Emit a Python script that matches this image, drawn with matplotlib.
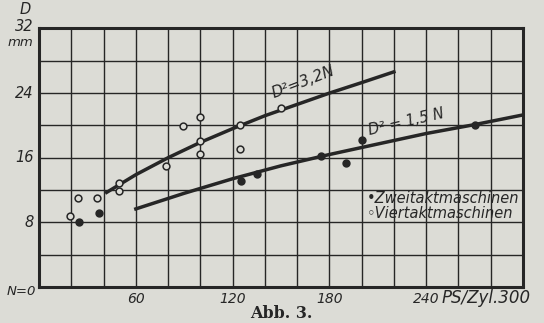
import matplotlib
matplotlib.use('Agg')
import matplotlib.pyplot as plt
import numpy as np

# Viertaktmaschinen (open circles): N in PS/Zyl., D in mm
n_vier = [19, 24, 36, 49.5, 49.5, 79, 89, 100, 100, 100, 124.5, 124.5, 150]
d_vier = [8.8, 11.0, 11.0, 12.9, 11.9, 15.0, 19.9, 21.0, 18.1, 16.5, 20.1, 17.1, 22.1]
# Zweitaktmaschinen (filled)
n_zwei = [24.5, 37, 125.5, 135, 175, 190, 200.5, 270]
d_zwei = [8.0, 9.1, 13.1, 14.0, 16.2, 15.3, 18.2, 20.1]
# curve D^2 = 3,2 N
n_c1 = [41, 60, 80, 100, 120, 140, 160, 180, 200, 221]
d_c1 = [11.6, 13.9, 16.0, 17.9, 19.6, 21.2, 22.6, 24.0, 25.3, 26.7]
# curve D^2 = 1,5 N
n_c2 = [59, 90, 120, 150, 180, 210, 240, 270, 300]
d_c2 = [9.6, 11.6, 13.4, 15.0, 16.4, 17.7, 19.0, 20.1, 21.3]

xlabels = ['60', '120', '180', '240']
xlabel_pos = [60, 120, 180, 240]
ylabels = ['8', '16', '24']
ylabel_pos = [8, 16, 24]

paper = '#dcdcd6'
ink = '#262626'

fig = plt.figure(figsize=(5.44, 3.23), dpi=100, facecolor=paper)
ax = fig.add_axes([0.0717, 0.1115, 0.8897, 0.8003])
ax.set_facecolor(paper)
ax.set_xlim(0, 300)
ax.set_ylim(0, 32)
ax.set_xticks(np.arange(0, 301, 20))
ax.set_yticks(np.arange(0, 33, 4))
ax.grid(True, color=ink, linewidth=1.0)
ax.tick_params(length=0, labelbottom=False, labelleft=False)
for s in ax.spines.values():
    s.set_linewidth(2.2)
    s.set_color(ink)

ax.plot(n_c1, d_c1, color=ink, linewidth=2.5, solid_capstyle='butt', zorder=3)
ax.plot(n_c2, d_c2, color=ink, linewidth=2.5, solid_capstyle='butt', zorder=3)
ax.scatter(n_vier, d_vier, s=24, facecolor=paper, edgecolor=ink, linewidth=1.1, zorder=4)
ax.scatter(n_zwei, d_zwei, s=24, facecolor=ink, edgecolor=ink, linewidth=1.1, zorder=4)

tf = dict(fontstyle='italic', color=ink, family='DejaVu Sans')
ax.text(146, 23.0, 'D²=3,2N', rotation=21, fontsize=11, ha='left', va='bottom',
        rotation_mode='anchor', zorder=5, **tf)
ax.text(205, 18.4, 'D² = 1,5 N', rotation=13, fontsize=10.5, ha='left', va='bottom',
        rotation_mode='anchor', zorder=5, **tf)
ax.text(203, 11.0, '•Zweitaktmaschinen', fontsize=10.5, ha='left', va='center', zorder=5, **tf)
ax.text(203, 9.1, '◦Viertaktmaschinen', fontsize=10.5, ha='left', va='center', zorder=5, **tf)

# axis labels
for p, t in zip(xlabel_pos, xlabels):
    ax.text(p, -0.6, t, ha='center', va='top', fontsize=10, **tf)
ax.text(305, -0.3, 'PS/Zyl.300', ha='right', va='top', fontsize=12, **tf)
for p, t in zip(ylabel_pos, ylabels):
    ax.text(-3.5, p, t, ha='right', va='center', fontsize=10.5, **tf)
ax.text(-3.5, 32.2, '32', ha='right', va='center', fontsize=10.5, **tf)
ax.text(-5, 34.4, 'D', ha='right', va='center', fontsize=10.5, **tf)
ax.text(-3.5, 30.3, 'mm', ha='right', va='center', fontsize=9.5, **tf)
ax.text(-2, -0.5, 'N=0', ha='right', va='center', fontsize=9.5, **tf)

fig.text(0.517, 0.03, 'Abb. 3.', ha='center', va='center', fontsize=11.5,
         fontweight='bold', family='DejaVu Serif', color=ink)

fig.savefig('out.png', dpi=100, facecolor=paper)
